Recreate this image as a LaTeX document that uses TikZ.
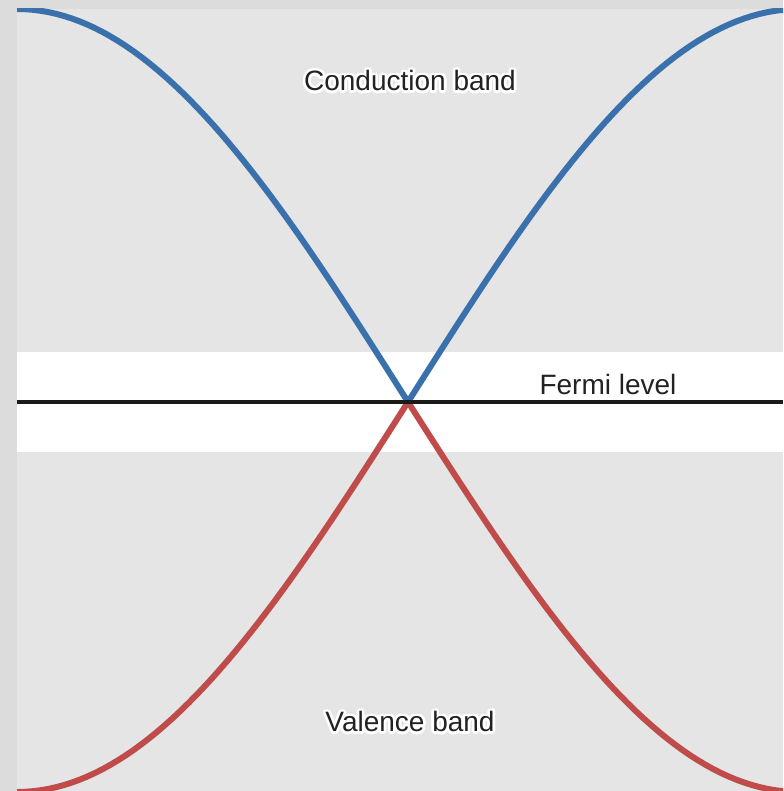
\documentclass[tikz,border=0pt]{standalone}
\usepackage{fontspec}
\setmainfont{Liberation Sans}
\usepackage{contour}
\contourlength{1.3pt}
\usepackage{tikz}
\usetikzlibrary{positioning}
\definecolor{FrameGray}{HTML}{DCDCDC}
\definecolor{PlotGray}{HTML}{E5E5E5}
\definecolor{BandBlue}{HTML}{3A71AC}
\definecolor{BandRed}{HTML}{C04B4B}
\definecolor{LabelInk}{HTML}{222222}
\definecolor{FermiInk}{HTML}{1A1A1A}

\begin{document}
\begin{tikzpicture}[x=0.5pt, y=0.5pt,
  band/.style={line width=3pt, line join=round, line cap=butt},
  fermi/.style={line width=1.7pt, color=FermiInk},
  label/.style={font=\fontsize{14}{16}\selectfont, text=LabelInk, inner sep=0pt}
]
  \useasboundingbox (0,0) rectangle (783,791);

  % backgrounds
  \fill[FrameGray] (0,0) rectangle (783,791);
  \fill[PlotGray] (17,0) rectangle (783,782);
  \fill[white] (17,339) rectangle (783,439);

  % bands
  \begin{scope}
    \clip (17,0) rectangle (783,782);
    \draw[band, BandRed] plot[domain=17:799, samples=101]
      (\x, {389-390*sin(abs(408-\x)/391*90)});
    \draw[band, BandBlue] plot[domain=17:799, samples=101]
      (\x, {389+393*sin(abs(408-\x)/391*90)});
  \end{scope}

  % Fermi level
  \coordinate (fl) at (17,389);
  \coordinate (fr) at (783,389);
  \draw[fermi] (fl) -- (fr);
  \node[label, anchor=base] (fermilbl) at (608,396) {Fermi level};

  % labels
  \node[label] (cond) at (410,709) {\contour{white}{Conduction band}};
  \node[label] (val) at (410,68) {\contour{white}{Valence band}};
\end{tikzpicture}
\end{document}
